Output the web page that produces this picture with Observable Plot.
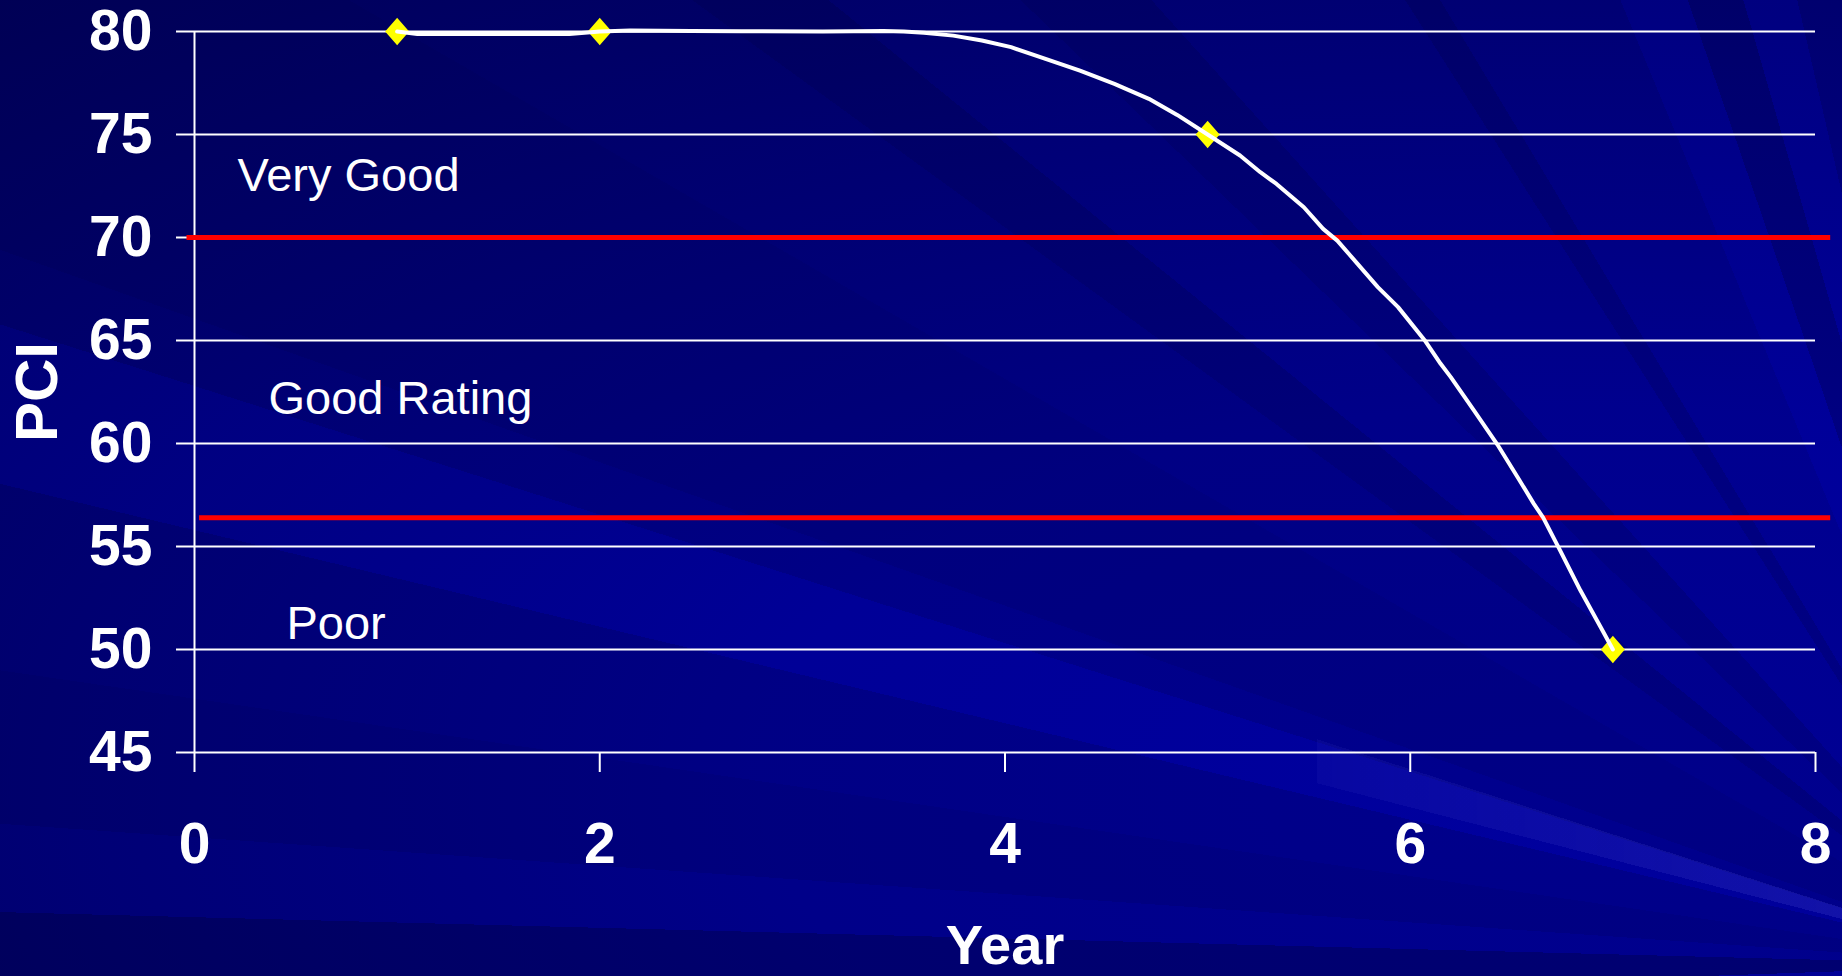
<!DOCTYPE html>
<html>
<head>
<meta charset="utf-8">
<script src="https://cdn.jsdelivr.net/npm/d3@7"></script>
<script src="https://cdn.jsdelivr.net/npm/@observablehq/plot@0.6"></script>
<style>
  html, body { margin: 0; padding: 0; }
  body {
    width: 1842px;
    height: 976px;
    overflow: hidden;
    position: relative;
    font-family: "Liberation Sans", Arial, sans-serif;
    background:
      conic-gradient(from 0deg at 2020px 965px,
        transparent 0deg 268deg,
        rgba(0,0,40,0.35) 268deg 271.5deg,
        rgba(0,0,40,0.1) 271.5deg 274deg,
        rgba(0,0,40,0.2) 274deg 278.3deg,
        rgba(0,0,40,0.14) 278.3deg 283.4deg,
        rgba(0,0,190,0.07) 283.4deg 287.6deg,
        rgba(0,0,40,0.12) 287.6deg 289.5deg,
        rgba(0,0,40,0.2) 289.5deg 300deg,
        rgba(0,0,40,0.15) 300deg 306deg,
        rgba(0,0,40,0.25) 306deg 309deg,
        rgba(0,0,40,0.1) 309deg 314deg,
        rgba(0,0,40,0.2) 314deg 318deg,
        rgba(0,0,40,0.06) 318deg 327.5deg,
        rgba(0,0,40,0.2) 327.5deg 329deg,
        rgba(0,0,40,0.05) 329deg 337.5deg,
        rgba(0,0,200,0.1) 337.5deg 341deg,
        rgba(0,0,40,0.18) 341deg 344deg,
        rgba(0,0,200,0.1) 344deg 347deg,
        rgba(0,0,40,0.1) 347deg 352deg,
        transparent 352deg 360deg),
      radial-gradient(ellipse 125% 110% at 85% 80%, #00009c 0%, #000094 35%, #00007e 65%, #000060 100%);
  }
  .streak {
    position: absolute;
    left: 1317px;
    top: 0;
    width: 525px;
    height: 976px;
    background: conic-gradient(from 0deg at 703px 965px,
      transparent 0deg 284.5deg,
      rgba(60,60,200,0.3) 284.5deg 287.8deg,
      transparent 287.8deg 360deg);
    -webkit-mask-image: linear-gradient(to right, rgba(0,0,0,0.4), #000);
    mask-image: linear-gradient(to right, rgba(0,0,0,0.4), #000);
  }
  #chart { position: absolute; left: 0; top: 0; }
  #chart svg { display: block; }
</style>
</head>
<body>
<div class="streak"></div>
<div id="chart"></div>
<script>
// Measured pavement condition at inspection years
const years = [1, 2, 5, 7];
const pci = [80, 80, 75, 50];

// Deterioration curve through the inspections
const curveYears = [1.00, 1.10, 1.85, 2.00, 2.15, 2.45, 2.70, 3.10, 3.40, 3.50, 3.60, 3.745, 3.886, 4.03, 4.20,
  4.37, 4.54, 4.71, 4.85, 5.00, 5.16, 5.26, 5.34, 5.475, 5.57, 5.64, 5.74, 5.84, 5.94, 6.07,
  6.15, 6.20, 6.315, 6.43, 6.53, 6.61, 6.656, 6.74, 6.84, 6.94, 7.00];
const curvePci = [80.00, 79.88, 79.88, 80.00, 80.05, 80.03, 80.01, 80.00, 80.02, 80.00, 79.94, 79.80, 79.56, 79.24, 78.67,
  78.10, 77.46, 76.73, 75.95, 75.00, 73.98, 73.17, 72.60, 71.47, 70.42, 69.85, 68.72, 67.59, 66.62, 65.03,
  63.87, 63.22, 61.60, 59.95, 58.36, 57.07, 56.40, 54.80, 52.86, 51.08, 50.00];

// Rating class boundaries and the span of each boundary line (years)
const thresholds = [70, 56.4];
const thresholdFrom = [-0.037, 0.025];
const thresholdTo = [8.075, 8.075];

// Rating class names and where they sit (year, PCI baseline)
const bandLabels = ["Very Good", "Good Rating", "Poor"];
const bandLabelYear = [0.212, 0.365, 0.454];
const bandLabelPci = [72.28, 61.44, 50.52];

const xTicks = [0, 2, 4, 6, 8];
const yTicks = [45, 50, 55, 60, 65, 70, 75, 80];

const inspections = years.map((year, i) => ({year, pci: pci[i]}));
const curve = curveYears.map((year, i) => ({year, pci: curvePci[i]}));
const bounds = thresholds.map((value, i) => ({value, from: thresholdFrom[i], to: thresholdTo[i]}));
const labels = bandLabels.map((text, i) => ({text, year: bandLabelYear[i], pci: bandLabelPci[i]}));

// Diamond a little taller than wide
const diamond = {
  draw(context, size) {
    const r = Math.sqrt(size / Math.PI);
    const h = r * 1.15;
    context.moveTo(0, -h);
    context.lineTo(r, 0);
    context.lineTo(0, h);
    context.lineTo(-r, 0);
    context.closePath();
  }
};

const font = "'Liberation Sans', Arial, sans-serif";

const chart = Plot.plot({
  width: 1842,
  height: 976,
  marginTop: 31,
  marginBottom: 224,
  marginLeft: 194,
  marginRight: 27,
  style: {background: "transparent", color: "white", fontFamily: font, overflow: "visible"},
  x: {domain: [0, 8]},
  y: {domain: [45, 80]},
  marks: [
    Plot.gridY(yTicks, {stroke: "white", strokeOpacity: 1, strokeWidth: 2}),
    Plot.axisY(yTicks, {
      tickSize: 18, tickPadding: 24, stroke: "white", strokeWidth: 2,
      fill: "white", fontSize: 57, fontWeight: "bold", label: null, tickFormat: d3.format("d")
    }),
    Plot.axisX(xTicks, {
      tickSize: 20, tickPadding: 50, stroke: "white", strokeWidth: 2,
      fill: "white", fontSize: 57, fontWeight: "bold", label: null, tickFormat: d3.format("d")
    }),
    Plot.ruleX([0], {y1: 45, y2: 80, stroke: "white", strokeWidth: 2}),
    Plot.text(["PCI"], {
      frameAnchor: "left", dx: -157, rotate: -90, fill: "white",
      fontSize: 60, fontWeight: "bold", textAnchor: "middle", lineAnchor: "middle"
    }),
    Plot.text(["Year"], {
      frameAnchor: "bottom", dy: 172, fill: "white",
      fontSize: 56, fontWeight: "bold", textAnchor: "middle", lineAnchor: "top"
    }),
    Plot.text(labels, {
      x: "year", y: "pci", text: "text", fill: "white",
      fontSize: 47, textAnchor: "start", lineAnchor: "bottom"
    }),
    Plot.ruleY(bounds, {y: "value", x1: "from", x2: "to", stroke: "#ff0000", strokeWidth: 5}),
    Plot.dot(inspections, {x: "year", y: "pci", symbol: diamond, r: 12, fill: "#ffff00", stroke: "none"}),
    Plot.line(curve, {x: "year", y: "pci", stroke: "white", strokeWidth: 4, strokeLinejoin: "round", strokeLinecap: "round"})
  ]
});

document.getElementById("chart").append(chart);
</script>
</body>
</html>
